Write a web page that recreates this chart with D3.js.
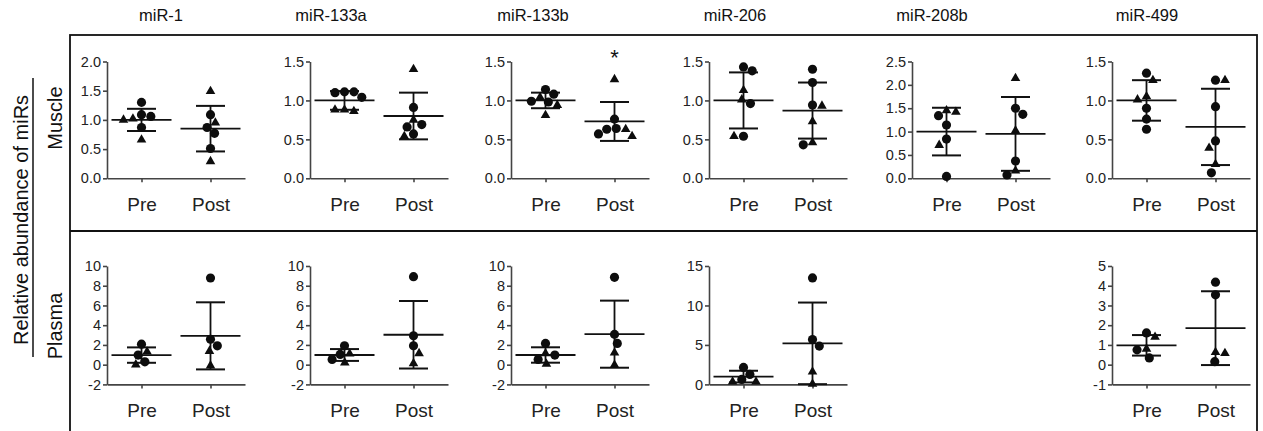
<!DOCTYPE html>
<html>
<head>
<meta charset="utf-8">
<script src="https://d3js.org/d3.v7.min.js"></script>
<style>
  body { margin: 0; background: #fff; }
  svg { font-family: Arial, "Liberation Sans", sans-serif; }
</style>
</head>
<body>
<div id="chart"></div>
<script>
var mirs = ["miR-1", "miR-133a", "miR-133b", "miR-206", "miR-208b", "miR-499"];
var groups = ["Pre", "Post"];
var tissues = ["Muscle", "Plasma"];

// y ticks per panel (null = no panel)
var muscleTicks = [
    [0, 0.5, 1, 1.5, 2], [0, 0.5, 1, 1.5], [0, 0.5, 1, 1.5],
    [0, 0.5, 1, 1.5], [0, 0.5, 1, 1.5, 2, 2.5], [0, 0.5, 1, 1.5]
];
var plasmaTicks = [
    [-2, 0, 2, 4, 6, 8, 10], [-2, 0, 2, 4, 6, 8, 10], [-2, 0, 2, 4, 6, 8, 10],
    [0, 5, 10, 15], null, [-1, 0, 1, 2, 3, 4, 5]
];

// muscle: individual values (circles / triangles), Pre and Post
var muscleCirclesPre = [
    [1.30, 1.09, 1.06, 0.87],
    [1.11, 1.11, 1.10, 1.04],
    [1.14, 1.08, 0.99, 0.98],
    [1.43, 1.38, 0.96, 0.54],
    [1.34, 1.14, 0.84, 0.04],
    [1.35, 0.90, 0.76, 0.63]
];
var muscleTrianglesPre = [
    [1.02, 1.00, 0.66],
    [0.88, 0.86, 0.88],
    [1.04, 0.94, 0.81],
    [1.13, 1.01, 0.54],
    [1.45, 1.42, 0.71],
    [1.26, 1.05, 1.01]
];
var muscleCirclesPost = [
    [1.09, 0.87, 0.77, 0.51],
    [0.91, 0.69, 0.66, 0.57],
    [0.76, 0.64, 0.63, 0.57],
    [1.40, 1.23, 0.94, 0.43],
    [1.50, 1.37, 0.37, 0.07],
    [1.26, 0.92, 0.48, 0.07]
];
var muscleTrianglesPost = [
    [1.49, 0.95, 0.29],
    [1.40, 0.75, 0.54],
    [1.27, 0.63, 0.54],
    [0.93, 0.73, 0.46],
    [2.14, 1.02, 0.16],
    [1.26, 0.39, 0.18]
];
var muscleMean = [[1.0, 0.85], [1.0, 0.80], [1.0, 0.73], [1.0, 0.87], [1.0, 0.95], [1.0, 0.66]];
var muscleSD = [[0.19, 0.39], [0.12, 0.30], [0.10, 0.25], [0.36, 0.36], [0.51, 0.79], [0.26, 0.49]];

// plasma (no miR-208b panel)
var plasmaCirclesPre = [
    [2.08, 0.97, 0.29],
    [1.92, 1.04, 0.53],
    [2.15, 0.97, 0.53],
    [2.15, 1.26, 0.63],
    null,
    [1.61, 0.75, 0.34]
];
var plasmaTrianglesPre = [
    [1.30, 0.0],
    [1.11, 0.2],
    [1.14, 0.06],
    [0.34, 0.34],
    null,
    [1.40, 0.80]
];
var plasmaCirclesPost = [
    [8.78, 2.58, 1.91],
    [8.92, 2.93, 1.92],
    [8.85, 3.07, 2.15],
    [13.49, 5.69, 4.85],
    null,
    [4.18, 3.54, 0.15]
];
var plasmaTrianglesPost = [
    [1.37, -0.1],
    [1.14, 0.13],
    [1.20, -0.04],
    [1.60, 0.04],
    null,
    [0.63, 0.58]
];
var plasmaMean = [[0.97, 2.92], [0.98, 3.03], [0.98, 3.09], [0.99, 5.2], null, [0.98, 1.85]];
var plasmaSD = [[0.78, 3.40], [0.60, 3.42], [0.78, 3.40], [0.74, 5.17], null, [0.52, 1.87]];

var significant = [[0, 0, 1, 0, 0, 0], [0, 0, 0, 0, 0, 0]]; // asterisk on Post

// layout
var W = 1263, H = 431;
var colX = [107, 310, 511, 709, 912, 1112];
var titleX = [161, 331, 533, 735, 932, 1147];
var axisW = 138;
var rowY = [[178.3, 61.5], [384.4, 266]];
var dotD = 9.5;

var svg = d3.select("#chart").append("svg").attr("width", W).attr("height", H);

// frame
svg.append("rect").attr("x", 70).attr("y", 35).attr("width", 1187).attr("height", 400)
    .attr("fill", "none").attr("stroke", "#111").attr("stroke-width", 1.8);
svg.append("line").attr("x1", 70).attr("x2", 1257).attr("y1", 231).attr("y2", 231)
    .attr("stroke", "#111").attr("stroke-width", 1.8);

// side labels
svg.append("text").attr("transform", "translate(21,220) rotate(-90)")
    .attr("text-anchor", "middle").attr("dy", "0.35em").attr("font-size", 20).attr("fill", "#111")
    .text("Relative abundance of miRs");
svg.append("line").attr("x1", 33).attr("x2", 33).attr("y1", 78).attr("y2", 357)
    .attr("stroke", "#111").attr("stroke-width", 1.5);
[118, 326].forEach(function (cy, i) {
    svg.append("text").attr("transform", "translate(55," + cy + ") rotate(-90)")
        .attr("text-anchor", "middle").attr("dy", "0.35em").attr("font-size", 20).attr("fill", "#111")
        .text(tissues[i]);
});

// column titles
svg.selectAll("text.title").data(mirs).enter().append("text").attr("class", "title")
    .attr("x", function (d, i) { return titleX[i]; }).attr("y", 21)
    .attr("text-anchor", "middle").attr("font-size", 16.5).attr("fill", "#111")
    .text(function (d) { return d; });

// place points side by side so they don't overlap
function swarm(pts, y) {
    pts.sort(function (a, b) { return b.v - a.v; });
    var placed = [];
    pts.forEach(function (p) {
        p.py = y(p.v);
        var cands = [0];
        placed.forEach(function (q) {
            var dy = Math.abs(q.py - p.py);
            if (dy < dotD) {
                var dx = Math.sqrt(dotD * dotD - dy * dy);
                cands.push(q.dx + dx, q.dx - dx);
            }
        });
        var ok = cands.filter(function (c) {
            return placed.every(function (q) {
                var a = c - q.dx, b = p.py - q.py;
                return a * a + b * b >= dotD * dotD - 0.01;
            });
        });
        var bal = d3.sum(placed, function (q) { return q.dx; });
        ok.sort(function (a, b) {
            var d = Math.abs(a) - Math.abs(b);
            if (Math.abs(d) > 0.01) return d;
            return bal > 0 ? a - b : b - a;
        });
        p.dx = ok[0];
        placed.push(p);
    });
    return pts;
}

function hyphen(f) {
    return function (v) { return f(v).replace("\u2212", "-"); };
}

function drawPanel(r, c, ticks, circles, triangles, mean, sd, fmt) {
    var g = svg.append("g");
    var ax = colX[c];
    var y = d3.scaleLinear().domain([ticks[0], ticks[ticks.length - 1]]).range(rowY[r]);
    var x = d3.scalePoint().domain(groups).range([ax, ax + axisW]).padding(0.5);

    var ya = g.append("g").attr("transform", "translate(" + ax + ",0)")
        .call(d3.axisLeft(y).tickValues(ticks).tickFormat(hyphen(fmt)).tickSize(4).tickSizeOuter(0).tickPadding(2));
    var xa = g.append("g").attr("transform", "translate(0," + rowY[r][0] + ")")
        .call(d3.axisBottom(x).tickSize(4).tickSizeOuter(0).tickPadding(15));
    [ya, xa].forEach(function (a) {
        a.selectAll("path, line").attr("stroke", "#444").attr("stroke-width", 1.6);
        a.selectAll("text").attr("fill", "#222").attr("font-family", null);
    });
    ya.selectAll("text").attr("font-size", 14.5);
    xa.selectAll("text").attr("font-size", 19);

    groups.forEach(function (grp, gi) {
        var cx = x(grp);
        var m = mean[gi], s = sd[gi];
        // mean line and SD bars
        g.append("line").attr("x1", cx - 30).attr("x2", cx + 30).attr("y1", y(m)).attr("y2", y(m))
            .attr("stroke", "#111").attr("stroke-width", 1.8);
        g.append("line").attr("x1", cx).attr("x2", cx).attr("y1", y(m + s)).attr("y2", y(m - s))
            .attr("stroke", "#111").attr("stroke-width", 1.8);
        [m + s, m - s].forEach(function (v) {
            g.append("line").attr("x1", cx - 14.5).attr("x2", cx + 14.5).attr("y1", y(v)).attr("y2", y(v))
                .attr("stroke", "#111").attr("stroke-width", 2);
        });

        var pts = circles[gi].map(function (v) { return {v: v, s: "c"}; })
            .concat(triangles[gi].map(function (v) { return {v: v, s: "t"}; }));
        swarm(pts, y);
        g.selectAll(null).data(pts).enter().append("path")
            .attr("d", function (d) {
                return d3.symbol().type(d.s === "c" ? d3.symbolCircle : d3.symbolTriangle)
                    .size(d.s === "c" ? 66 : 40)();
            })
            .attr("transform", function (d) { return "translate(" + (cx + d.dx) + "," + d.py + ")"; })
            .attr("fill", "#0d0d0d");
    });

    if (significant[r][c]) {
        g.append("text").attr("x", x("Post")).attr("y", 65).attr("text-anchor", "middle")
            .attr("font-size", 22).attr("fill", "#111").text("*");
    }
}

mirs.forEach(function (mir, c) {
    drawPanel(0, c, muscleTicks[c],
        [muscleCirclesPre[c], muscleCirclesPost[c]],
        [muscleTrianglesPre[c], muscleTrianglesPost[c]],
        muscleMean[c], muscleSD[c], d3.format(".1f"));
    if (plasmaTicks[c]) {
        drawPanel(1, c, plasmaTicks[c],
            [plasmaCirclesPre[c], plasmaCirclesPost[c]],
            [plasmaTrianglesPre[c], plasmaTrianglesPost[c]],
            plasmaMean[c], plasmaSD[c], d3.format("d"));
    }
});
</script>
</body>
</html>
